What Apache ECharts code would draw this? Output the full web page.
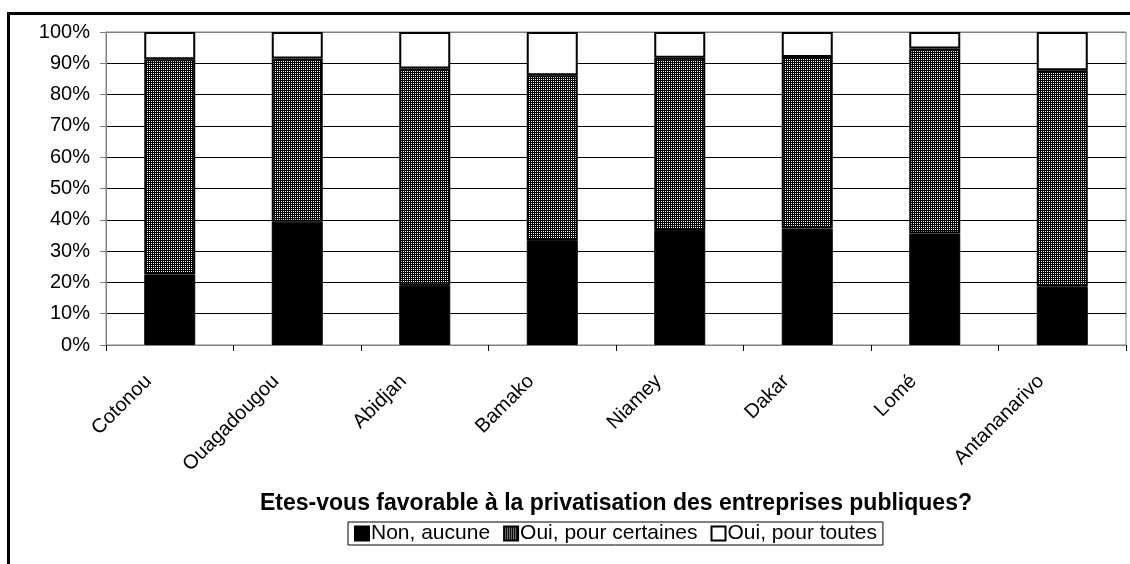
<!DOCTYPE html>
<html>
<head>
<meta charset="utf-8">
<script src="https://cdn.jsdelivr.net/npm/echarts@6/dist/echarts.min.js"></script>
<style>
html,body{margin:0;padding:0;background:#fff;}
#c{width:1130px;height:564px;}
</style>
</head>
<body>
<div id="c"></div>
<script>
var categories = ['Cotonou','Ouagadougou','Abidjan','Bamako','Niamey','Dakar','Lomé','Antananarivo'];
var nonAucune = [22.5, 39.4, 19.1, 33.5, 36.7, 37.2, 35.6, 18.6];
var ouiCertaines = [68.8, 52.1, 69.2, 52.7, 55.1, 54.8, 59.1, 69.2];
var ouiToutes = [8.7, 8.5, 11.7, 13.8, 8.2, 8.0, 5.3, 12.2];
var yTicks = ['0%','10%','20%','30%','40%','50%','60%','70%','80%','90%','100%'];
var legendNames = ['Non, aucune','Oui, pour certaines','Oui, pour toutes'];
var axisTitle = 'Etes-vous favorable à la privatisation des entreprises publiques?';

var pc = document.createElement('canvas');
pc.width = 2; pc.height = 2;
var px = pc.getContext('2d');
px.fillStyle = '#000000'; px.fillRect(0,0,2,2);
px.fillStyle = '#ffffff'; px.fillRect(1,1,1,1);
var pattern = {image: pc, repeat: 'repeat'};

var chart = echarts.init(document.getElementById('c'), null, {renderer:'canvas'});
var FONT = 'Liberation Sans, Arial, sans-serif';
var splitColors = yTicks.map(function(t,i){ return i === yTicks.length-1 ? '#808080' : '#000'; });

chart.setOption({
  animation: false,
  backgroundColor: '#fff',
  textStyle: {fontFamily: FONT, color:'#000'},
  grid: {left:106, right:4, top:32, bottom:219, show:true, borderColor:'#808080', borderWidth:1},
  legend: {
    data: legendNames,
    left: 348, top: 522,
    itemWidth: 14, itemHeight: 14, itemGap: 13,
    padding: [1,6,1,6],
    borderColor: '#000', borderWidth: 1,
    textStyle: {fontFamily: FONT, fontSize: 21, color:'#000', padding:[0,0,0,-3]},
    icon: 'rect'
  },
  xAxis: {
    type: 'category', data: categories,
    axisLine: {lineStyle:{color:'#808080'}},
    axisTick: {show:true, length:6, lineStyle:{color:'#000'}},
    axisLabel: {rotate:45, fontSize:20, color:'#000', fontFamily: FONT, margin:12, padding:[0,30,0,0]},
    name: axisTitle, nameLocation: 'middle', nameGap: 147,
    nameTextStyle: {fontFamily: FONT, fontSize:23, fontWeight:'bold', color:'#000'}
  },
  yAxis: {
    type: 'value', min: 0, max: 100, interval: 10,
    axisLine: {show:true, lineStyle:{color:'#808080'}},
    axisTick: {show:true, length:6, lineStyle:{color:'#808080'}},
    axisLabel: {fontSize:20, color:'#000', fontFamily: FONT, margin:16,
      formatter: function(v){ return yTicks[Math.round(v/10)]; }},
    splitLine: {show:true, lineStyle:{color: splitColors, width:1}}
  },
  series: [
    {name: legendNames[0], type:'bar', stack:'s', data: nonAucune, barWidth:'40%',
     itemStyle:{color:'#000', borderColor:'#000', borderWidth:1}},
    {name: legendNames[1], type:'bar', stack:'s', data: ouiCertaines, barWidth:'40%',
     itemStyle:{color: pattern, borderColor:'#000', borderWidth:2}},
    {name: legendNames[2], type:'bar', stack:'s', data: ouiToutes, barWidth:'40%',
     itemStyle:{color:'#fff', borderColor:'#000', borderWidth:2}}
  ],
  graphic: [
    {type:'line', shape:{x1:8, y1:13.5, x2:1130, y2:13.5}, style:{stroke:'#000', lineWidth:3}},
    {type:'line', shape:{x1:8.5, y1:12, x2:8.5, y2:564}, style:{stroke:'#000', lineWidth:3}}
  ]
});
</script>
</body>
</html>
